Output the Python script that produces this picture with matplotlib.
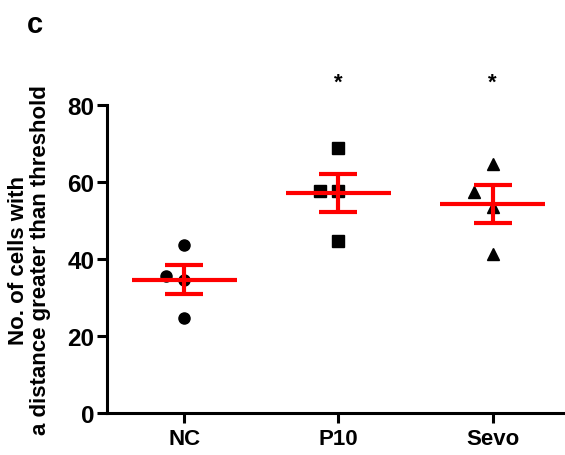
import numpy as np
import matplotlib
matplotlib.use("Agg")
import matplotlib.pyplot as plt

plt.rcParams['font.family'] = ['Liberation Sans', 'DejaVu Sans']
plt.rcParams['font.weight'] = 'bold'

groups = ['NC', 'P10', 'Sevo']
nc_vals = [43.6, 35.7, 34.5, 24.8]
p10_vals = [68.8, 57.6, 57.6, 44.8]
sevo_vals = [64.6, 57.5, 53.6, 41.4]
nc_dx = [0.0, -0.12, 0.0, 0.0]
p10_dx = [0.0, -0.12, 0.0, 0.0]
sevo_dx = [0.0, -0.12, 0.0, 0.0]
stars = ['', '*', '*']
star_y = 86

fig = plt.figure(figsize=(5.65, 4.56), dpi=100)
ax = fig.add_axes([0.1894, 0.0921, 0.8106, 0.6754])

series = [(nc_vals, nc_dx, 'o', 8), (p10_vals, p10_dx, 's', 8.5), (sevo_vals, sevo_dx, '^', 9)]
for i, (vals, dx, mk, ms) in enumerate(series):
    vals = np.array(vals)
    xs = i + np.array(dx)
    ax.plot(xs, vals, ls='none', marker=mk, ms=ms, color='black', zorder=2, clip_on=False)
    mean = vals.mean()
    sem = vals.std(ddof=1) / np.sqrt(len(vals))
    ax.hlines(mean, i - 0.34, i + 0.34, color='#ff0000', lw=3, zorder=3)
    ax.errorbar(i, mean, yerr=sem, fmt='none', ecolor='#ff0000', elinewidth=3,
                capsize=13.5, capthick=3, zorder=3)
    if stars[i]:
        ax.text(i, star_y, stars[i], ha='center', va='center', fontsize=16,
                fontweight='bold', clip_on=False)

ax.set_xlim(-0.5, 2.47)
ax.set_ylim(0, 80)
ax.set_xticks(range(len(groups)))
ax.set_xticklabels(groups, fontsize=16, fontweight='bold')
ax.set_yticks([0, 20, 40, 60, 80])
ax.set_yticklabels(['0', '20', '40', '60', '80'], fontsize=17.5, fontweight='bold')
ax.tick_params(axis='both', width=2.2, length=7, direction='out', pad=4)
ax.tick_params(axis='y', pad=2)
for side in ['top', 'right']:
    ax.spines[side].set_visible(False)
for side in ['left', 'bottom']:
    ax.spines[side].set_linewidth(2.2)

ax.set_ylabel('No. of cells with\na distance greater than threshold',
              fontsize=16, fontweight='bold', linespacing=1.05)
ax.yaxis.set_label_coords(-0.122, 0.5)

fig.text(0.047, 0.946, 'c', fontsize=21, fontweight='bold', ha='left', va='center')

fig.savefig('out.png', dpi=100)
